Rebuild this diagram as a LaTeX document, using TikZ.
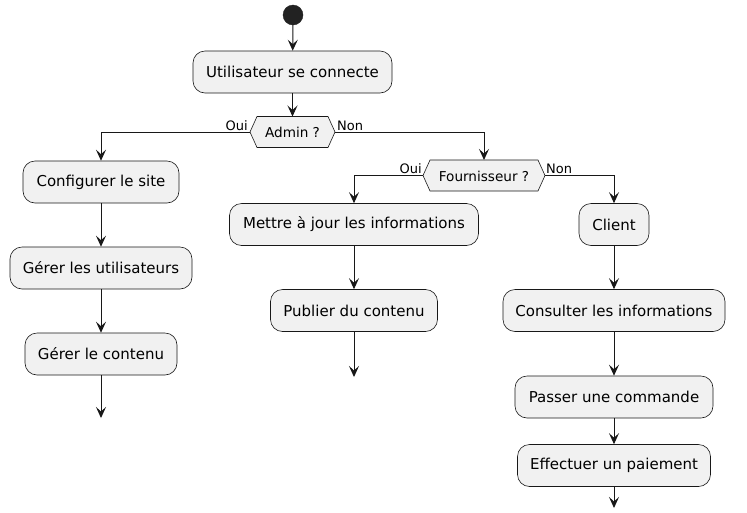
\documentclass[tikz,border=0pt]{standalone}
\usepackage{fontspec}
\setmainfont{DejaVu Sans}
\usetikzlibrary{arrows.meta}
\definecolor{boxfill}{HTML}{F1F1F1}
\definecolor{boxline}{HTML}{181818}
\definecolor{startfill}{HTML}{222222}
\begin{document}
\begin{tikzpicture}[x=1pt,y=-1pt,
 act/.style={draw=boxline,fill=boxfill,rounded corners=12pt,line width=0.6pt,minimum height=42pt,inner sep=0pt,font=\fontsize{15}{18}\selectfont},
 hex/.style={draw=boxline,fill=boxfill,line width=0.6pt},
 hextext/.style={inner sep=0pt,font=\fontsize{13.6}{16}\selectfont},
 flow/.style={draw=boxline,line width=1pt,-{Stealth[length=11pt,width=10pt,inset=4.5pt]}},
 lbl/.style={font=\fontsize{13}{15}\selectfont,inner sep=0pt}
]
\useasboundingbox (0,0) rectangle (747,512);

% start
\node[circle,fill=startfill,draw=startfill,minimum size=20pt,inner sep=0pt] (start) at (293,15) {};

% activities
\node[act,minimum width=199pt] (login) at (292.5,72) {Utilisateur se connecte};

% Admin hexagon
\coordinate (adminW) at (250,132);
\coordinate (adminE) at (335,132);
\coordinate (adminN) at (292.5,116.5);
\draw[hex] (adminW) -- ++(7,-15.5) -- ++(71,0) -- (adminE) -- ++(-7,15.5) -- ++(-71,0) -- cycle;
\node[hextext] (admin) at (292.5,132.5) {Admin ?};

\node[act,minimum width=156pt] (config) at (101,182) {Configurer le site};
\node[act,minimum width=182pt] (users) at (101,268) {Gérer les utilisateurs};
\node[act,minimum width=152pt] (contenu) at (101,354) {Gérer le contenu};
\coordinate (endA) at (101,418);

% Fournisseur hexagon
\coordinate (fournW) at (423,175.5);
\coordinate (fournE) at (545,175.5);
\coordinate (fournN) at (484,160);
\draw[hex] (fournW) -- ++(7,-15.5) -- ++(108,0) -- (fournE) -- ++(-7,15.5) -- ++(-108,0) -- cycle;
\node[hextext] (fourn) at (484,176) {Fournisseur ?};

\node[act,minimum width=249pt] (maj) at (354,224.5) {Mettre à jour les informations};
\node[act,minimum width=167pt] (publier) at (354,310.5) {Publier du contenu};
\coordinate (endB) at (354,377);

\node[act,minimum width=70pt] (client) at (614,224.5) {Client};
\node[act,minimum width=222pt] (consulter) at (614,310.5) {Consulter les informations};
\node[act,minimum width=198pt] (passer) at (614,397) {Passer une commande};
\node[act,minimum width=193pt] (payer) at (614,465.5) {Effectuer un paiement};
\coordinate (endC) at (614,508);

% labels
\node[lbl,anchor=south east] (ouiA) at (248,131) {Oui};
\node[lbl,anchor=south west] (nonA) at (337,131) {Non};
\node[lbl,anchor=south east] (ouiB) at (422,174) {Oui};
\node[lbl,anchor=south west] (nonB) at (546,174) {Non};

% flows
\draw[flow] (start) -- (login);
\draw[flow] (login) -- (adminN);
\draw[flow] (adminW) -| (config.north);
\draw[flow] (adminE) -| (fournN);
\draw[flow] (config) -- (users);
\draw[flow] (users) -- (contenu);
\draw[flow] (contenu) -- (endA);
\draw[flow] (fournW) -| (maj.north);
\draw[flow] (maj) -- (publier);
\draw[flow] (publier) -- (endB);
\draw[flow] (fournE) -| (client.north);
\draw[flow] (client) -- (consulter);
\draw[flow] (consulter) -- (passer);
\draw[flow] (passer) -- (payer);
\draw[flow] (payer) -- (endC);
\end{tikzpicture}
\end{document}
